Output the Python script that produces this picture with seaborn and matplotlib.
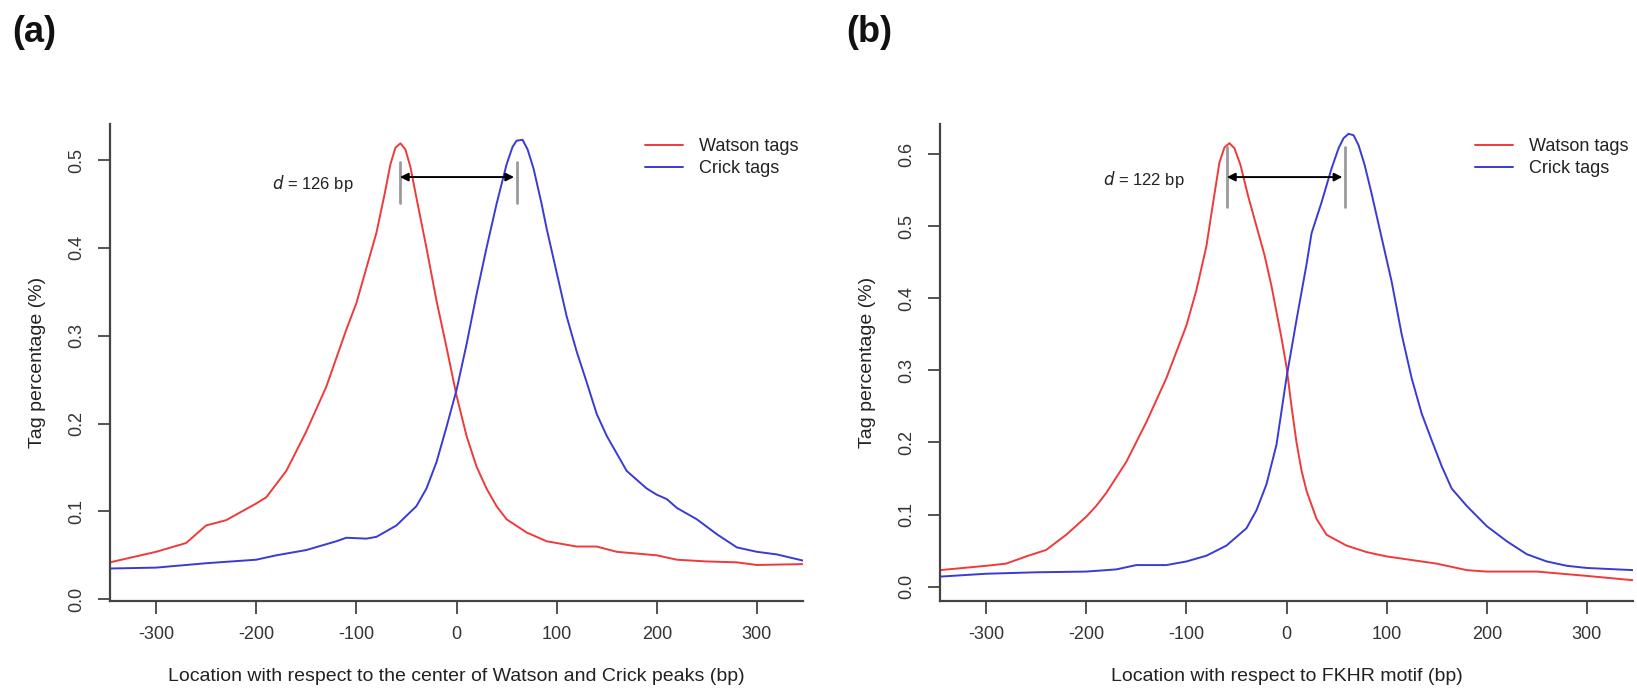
"""Watson / Crick tag profiles around peak centres and FKHR motif."""
import numpy as np
import pandas as pd
import matplotlib
matplotlib.use("Agg")
import matplotlib.pyplot as plt
import seaborn as sns

# ---- panel (a): centre of Watson and Crick peaks ----
watson_a_x = [-346, -300, -270, -250, -230, -200, -190, -170, -150, -130, -110, -100,
              -90, -80, -72, -66, -61, -56, -51, -46, -40, -30, -20, -10, 0, 10, 20, 30, 40, 50,
              70, 90, 100, 120, 140, 160, 180, 200, 220, 250, 280, 300, 346]
watson_a_y = [0.042, 0.054, 0.064, 0.084, 0.090, 0.109, 0.116, 0.146, 0.191, 0.242, 0.307, 0.337,
              0.377, 0.417, 0.460, 0.495, 0.514, 0.519, 0.512, 0.492, 0.457, 0.400, 0.340, 0.287,
              0.232, 0.186, 0.151, 0.126, 0.106, 0.091, 0.076, 0.066, 0.064, 0.060, 0.060, 0.054,
              0.052, 0.050, 0.045, 0.043, 0.042, 0.039, 0.040]
crick_a_x = [-346, -300, -250, -200, -180, -150, -120, -110, -90, -80, -60, -40, -30, -20, -10,
             0, 10, 20, 30, 40, 50, 56, 60, 66, 71, 77, 85, 90, 100, 110, 120, 130, 140, 150, 160,
             170, 180, 190, 200, 210, 220, 240, 260, 280, 300, 320, 346]
crick_a_y = [0.035, 0.036, 0.041, 0.045, 0.050, 0.056, 0.066, 0.070, 0.069, 0.071, 0.084, 0.106,
             0.126, 0.156, 0.196, 0.238, 0.290, 0.347, 0.400, 0.450, 0.495, 0.515, 0.522, 0.523,
             0.512, 0.490, 0.450, 0.422, 0.372, 0.322, 0.282, 0.247, 0.211, 0.186, 0.166, 0.146,
             0.136, 0.126, 0.119, 0.114, 0.104, 0.091, 0.074, 0.059, 0.054, 0.051, 0.044]

# ---- panel (b): FKHR motif ----
watson_b_x = [-346, -300, -280, -260, -240, -220, -200, -190, -180, -160, -140, -120, -100, -90,
              -80, -73, -67, -62, -57, -52, -46, -38, -30, -22, -15, -5, 0, 5, 10, 15, 20, 30, 40,
              60, 80, 100, 120, 150, 180, 200, 250, 300, 346]
watson_b_y = [0.023, 0.029, 0.032, 0.042, 0.051, 0.072, 0.097, 0.112, 0.130, 0.173, 0.228, 0.289,
              0.362, 0.411, 0.472, 0.535, 0.588, 0.609, 0.615, 0.608, 0.585, 0.540, 0.500, 0.460,
              0.417, 0.345, 0.305, 0.250, 0.200, 0.161, 0.133, 0.094, 0.072, 0.057, 0.048, 0.042,
              0.038, 0.032, 0.023, 0.021, 0.021, 0.015, 0.009]
crick_b_x = [-346, -300, -250, -200, -170, -150, -120, -100, -80, -60, -40, -30, -20, -10, 0, 10,
             20, 25, 35, 45, 52, 57, 62, 67, 72, 78, 85, 95, 105, 115, 125, 135, 145, 155, 165, 180,
             200, 220, 240, 260, 280, 300, 346]
crick_b_y = [0.014, 0.018, 0.020, 0.021, 0.024, 0.030, 0.030, 0.035, 0.043, 0.057, 0.081, 0.106,
             0.142, 0.197, 0.290, 0.370, 0.447, 0.490, 0.533, 0.580, 0.608, 0.622, 0.628, 0.626,
             0.612, 0.585, 0.545, 0.484, 0.423, 0.350, 0.289, 0.240, 0.203, 0.167, 0.136, 0.112,
             0.084, 0.063, 0.045, 0.035, 0.029, 0.026, 0.023]

panel_tags = ["(a)", "(b)"]
xlabels = ["Location with respect to the center of Watson and Crick peaks (bp)",
           "Location with respect to FKHR motif (bp)"]
ylabel = "Tag percentage (%)"
series_names = ["Watson tags", "Crick tags"]
colors = {"Watson tags": "#f03a3a", "Crick tags": "#3a3ad6"}
dist_labels = ["126", "122"]
peak_marks = [(-56.5, 60.5), (-59.5, 58.8)]

sns.set_style("ticks")
plt.rcParams["font.family"] = ["Liberation Sans", "DejaVu Sans"]
plt.rcParams["axes.unicode_minus"] = False

W, H = 1637, 689
fig = plt.figure(figsize=(W / 100, H / 100), dpi=100)

# pixel boxes (left, right, top, bottom)
boxes = [(110, 803, 124, 601), (940, 1633, 124, 601)]
ylims = [(-0.002, 0.541), (-0.0198, 0.6416)]
yticks = [np.arange(0, 0.51, 0.1), np.arange(0, 0.61, 0.1)]
mark_y = [(0.451, 0.498), (0.527, 0.610)]
arrow_y = [0.4806, 0.568]
text_xy = [(-103, 0.473), (-102, 0.564)]
tag_pos = [(12, 33), (846, 33)]

data = [
    (watson_a_x, watson_a_y, crick_a_x, crick_a_y),
    (watson_b_x, watson_b_y, crick_b_x, crick_b_y),
]

for i, (wx, wy, cx, cy) in enumerate(data):
    l, r, t, b = boxes[i]
    ax = fig.add_axes([l / W, 1 - b / H, (r - l) / W, (b - t) / H])
    df = pd.concat([
        pd.DataFrame({"pos": wx, "pct": wy, "strand": series_names[0]}),
        pd.DataFrame({"pos": cx, "pct": cy, "strand": series_names[1]}),
    ])
    sns.lineplot(data=df, x="pos", y="pct", hue="strand", palette=colors,
                 linewidth=1.4, ax=ax, estimator=None, sort=False)

    ax.set_xlim(-346, 346)
    ax.set_ylim(*ylims[i])
    ax.set_xticks([-300, -200, -100, 0, 100, 200, 300])
    ax.set_yticks(yticks[i])
    ax.set_yticklabels([f"{v:.1f}" for v in yticks[i]], rotation=90, va="center")
    ax.tick_params(direction="out", length=9, width=1.3, colors="#444444",
                   labelsize=13, labelcolor="#333333", pad=9)
    for side in ["left", "bottom"]:
        ax.spines[side].set_color("#444444")
        ax.spines[side].set_linewidth(1.6)
    sns.despine(ax=ax)
    ax.set_xlabel(xlabels[i], fontsize=14, color="#222222", labelpad=18)
    ax.set_ylabel(ylabel, fontsize=14, color="#222222", labelpad=16)

    # peak markers and distance arrow
    m0, m1 = peak_marks[i]
    for m in (m0, m1):
        ax.plot([m, m], mark_y[i], color="#9a9a9a", lw=2)
    ax.annotate("", xy=(m0, arrow_y[i]), xytext=(m1 - 3, arrow_y[i]),
                arrowprops=dict(arrowstyle="<|-|>", color="black", lw=1.4,
                                mutation_scale=12, shrinkA=0, shrinkB=0))
    ax.text(*text_xy[i], r"$d$ = " + dist_labels[i] + " bp", ha="right", va="center",
            fontsize=12, color="#222222")

    ax.legend(frameon=False, loc="upper left", bbox_to_anchor=(0.772, 0.97),
              fontsize=13, handlelength=2.1, handletextpad=0.9, labelspacing=0.25,
              borderaxespad=0, borderpad=0, title=None, labelcolor="#222222")

    fig.text(tag_pos[i][0] / W, 1 - tag_pos[i][1] / H, panel_tags[i], fontsize=26,
             fontweight="bold", ha="left", va="center", color="#111111")

fig.savefig("out.png", dpi=100, facecolor="white")
